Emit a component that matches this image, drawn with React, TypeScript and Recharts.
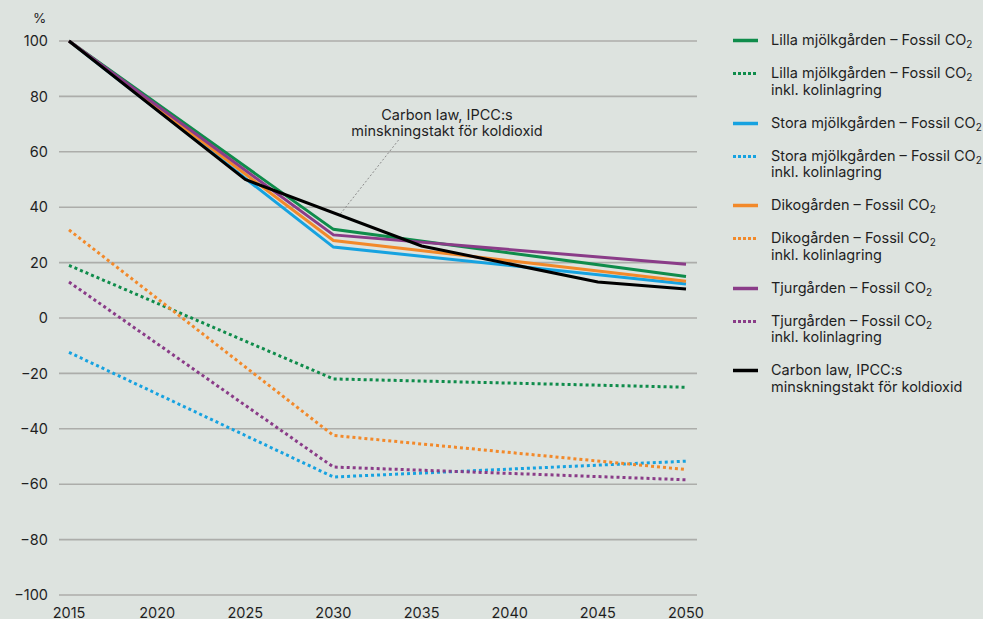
import { LineChart, Line, XAxis, YAxis, CartesianGrid, ReferenceLine } from "recharts";

const years = [2015, 2020, 2025, 2030, 2035, 2040, 2045, 2050];

// values in % of 2015 level, null where the line has no vertex
const lillaFossil = [100, null, null, 32, null, null, null, 15];
const lillaKol = [19, null, null, -22, null, null, null, -25];
const storaFossil = [100, null, null, 25.6, null, null, null, 12.3];
const storaKol = [-12.4, null, null, -57.4, null, null, null, -51.7];
const dikoFossil = [100, null, null, 28, null, null, null, 13.3];
const dikoKol = [31.8, null, null, -42.4, null, null, null, -54.7];
const tjurFossil = [100, null, null, 30, null, null, null, 19.4];
const tjurKol = [13, null, null, -53.8, null, null, null, -58.4];
const carbonLaw = [100, null, 50, null, 26, null, 13, 10.5];

const yTicks = [100, 80, 60, 40, 20, 0, -20, -40, -60, -80, -100];

const series = [
  { key: "lillaFossil", values: lillaFossil, color: "#0f8c4b", dotted: false, farm: "Lilla mjölkgården", kol: false },
  { key: "lillaKol", values: lillaKol, color: "#0f8c4b", dotted: true, farm: "Lilla mjölkgården", kol: true },
  { key: "storaFossil", values: storaFossil, color: "#16a2e0", dotted: false, farm: "Stora mjölkgården", kol: false },
  { key: "storaKol", values: storaKol, color: "#16a2e0", dotted: true, farm: "Stora mjölkgården", kol: true },
  { key: "dikoFossil", values: dikoFossil, color: "#f2892a", dotted: false, farm: "Dikogården", kol: false },
  { key: "dikoKol", values: dikoKol, color: "#f2892a", dotted: true, farm: "Dikogården", kol: true },
  { key: "tjurFossil", values: tjurFossil, color: "#8a3c88", dotted: false, farm: "Tjurgården", kol: false },
  { key: "tjurKol", values: tjurKol, color: "#8a3c88", dotted: true, farm: "Tjurgården", kol: true },
];

const data = years.map((year, i) => {
  const row: Record<string, number | null> = { year };
  series.forEach((s) => (row[s.key] = s.values[i]));
  row.carbonLaw = carbonLaw[i];
  return row;
});

const FONT = "Inter, 'Noto Sans', sans-serif";
const TEXT = "#1f1f1f";
const BG = "#dde3df";

const fmt = (v: number) => (v < 0 ? "\u2212" + Math.abs(v) : String(v));

function Sub2() {
  return <sub style={{ fontSize: 10, lineHeight: 0, verticalAlign: -3 }}>2</sub>;
}

function LegendSwatch({ color, dotted }: { color: string; dotted: boolean }) {
  return (
    <svg width={28} height={16} style={{ position: "absolute", left: 0, top: 0 }}>
      <line x1={1} y1={8.5} x2={26} y2={8.5} stroke={color} strokeWidth={dotted ? 3 : 3.5} strokeDasharray={dotted ? "3 2" : undefined} />
    </svg>
  );
}

function ChartLegend() {
  const itemStyle = { position: "relative" as const, paddingLeft: 39, marginBottom: 16.2, lineHeight: "16.7px" };
  return (
    <div style={{ position: "absolute", left: 732, top: 32.3, fontFamily: FONT, fontSize: 14.5, color: TEXT }}>
      {series.map((s) => (
        <div key={s.key} style={itemStyle}>
          <LegendSwatch color={s.color} dotted={s.dotted} />
          <div>
            {s.farm} – Fossil CO<Sub2 />
          </div>
          {s.kol && <div>inkl. kolinlagring</div>}
        </div>
      ))}
      <div style={itemStyle}>
        <LegendSwatch color="#000" dotted={false} />
        <div>Carbon law, IPCC:s</div>
        <div>minskningstakt för koldioxid</div>
      </div>
    </div>
  );
}

export default function App() {
  return (
    <div style={{ position: "absolute", left: 0, top: 0, width: 983, height: 619, background: BG, overflow: "hidden" }}>
      <div style={{ position: "absolute", left: 33, top: 10, fontFamily: FONT, fontSize: 13.5, color: TEXT }}>%</div>
      <LineChart width={983} height={619} data={data} margin={{ top: 41, right: 286, bottom: 0, left: 0 }}>
        <CartesianGrid vertical={false} stroke="#acadaa" strokeWidth={1.6} />
        <XAxis
          dataKey="year"
          type="number"
          domain={[2015, 2050]}
          ticks={years}
          padding={{ left: 10, right: 11 }}
          height={24}
          axisLine={false}
          tickLine={false}
          tickSize={0}
          tickMargin={13}
          tick={{ fill: TEXT, fontSize: 14.5, fontFamily: FONT }}
        />
        <YAxis
          domain={[-100, 100]}
          ticks={yTicks}
          width={59}
          axisLine={false}
          tickLine={false}
          tickSize={0}
          tickMargin={11}
          tickFormatter={fmt}
          tick={{ fill: TEXT, fontSize: 14.5, fontFamily: FONT }}
        />
        <ReferenceLine
          segment={[
            { x: 2030.4, y: 37.6 },
            { x: 2033.7, y: 64.3 },
          ]}
          stroke="#8c8c8c"
          strokeWidth={1}
          strokeDasharray="2 2"
        />
        {series.map((s) => (
          <Line
            key={s.key}
            dataKey={s.key}
            type="linear"
            stroke={s.color}
            strokeWidth={3}
            strokeDasharray={s.dotted ? "3 3" : undefined}
            dot={false}
            activeDot={false}
            connectNulls
            isAnimationActive={false}
          />
        ))}
        <Line
          dataKey="carbonLaw"
          type="linear"
          stroke="#000"
          strokeWidth={3}
          dot={false}
          activeDot={false}
          connectNulls
          isAnimationActive={false}
        />
      </LineChart>
      <div
        style={{
          position: "absolute",
          left: 347,
          top: 106.7,
          width: 200,
          textAlign: "center",
          fontFamily: FONT,
          fontSize: 14.5,
          lineHeight: "16.7px",
          color: TEXT,
        }}
      >
        <div>Carbon law, IPCC:s</div>
        <div>minskningstakt för koldioxid</div>
      </div>
      <ChartLegend />
    </div>
  );
}
